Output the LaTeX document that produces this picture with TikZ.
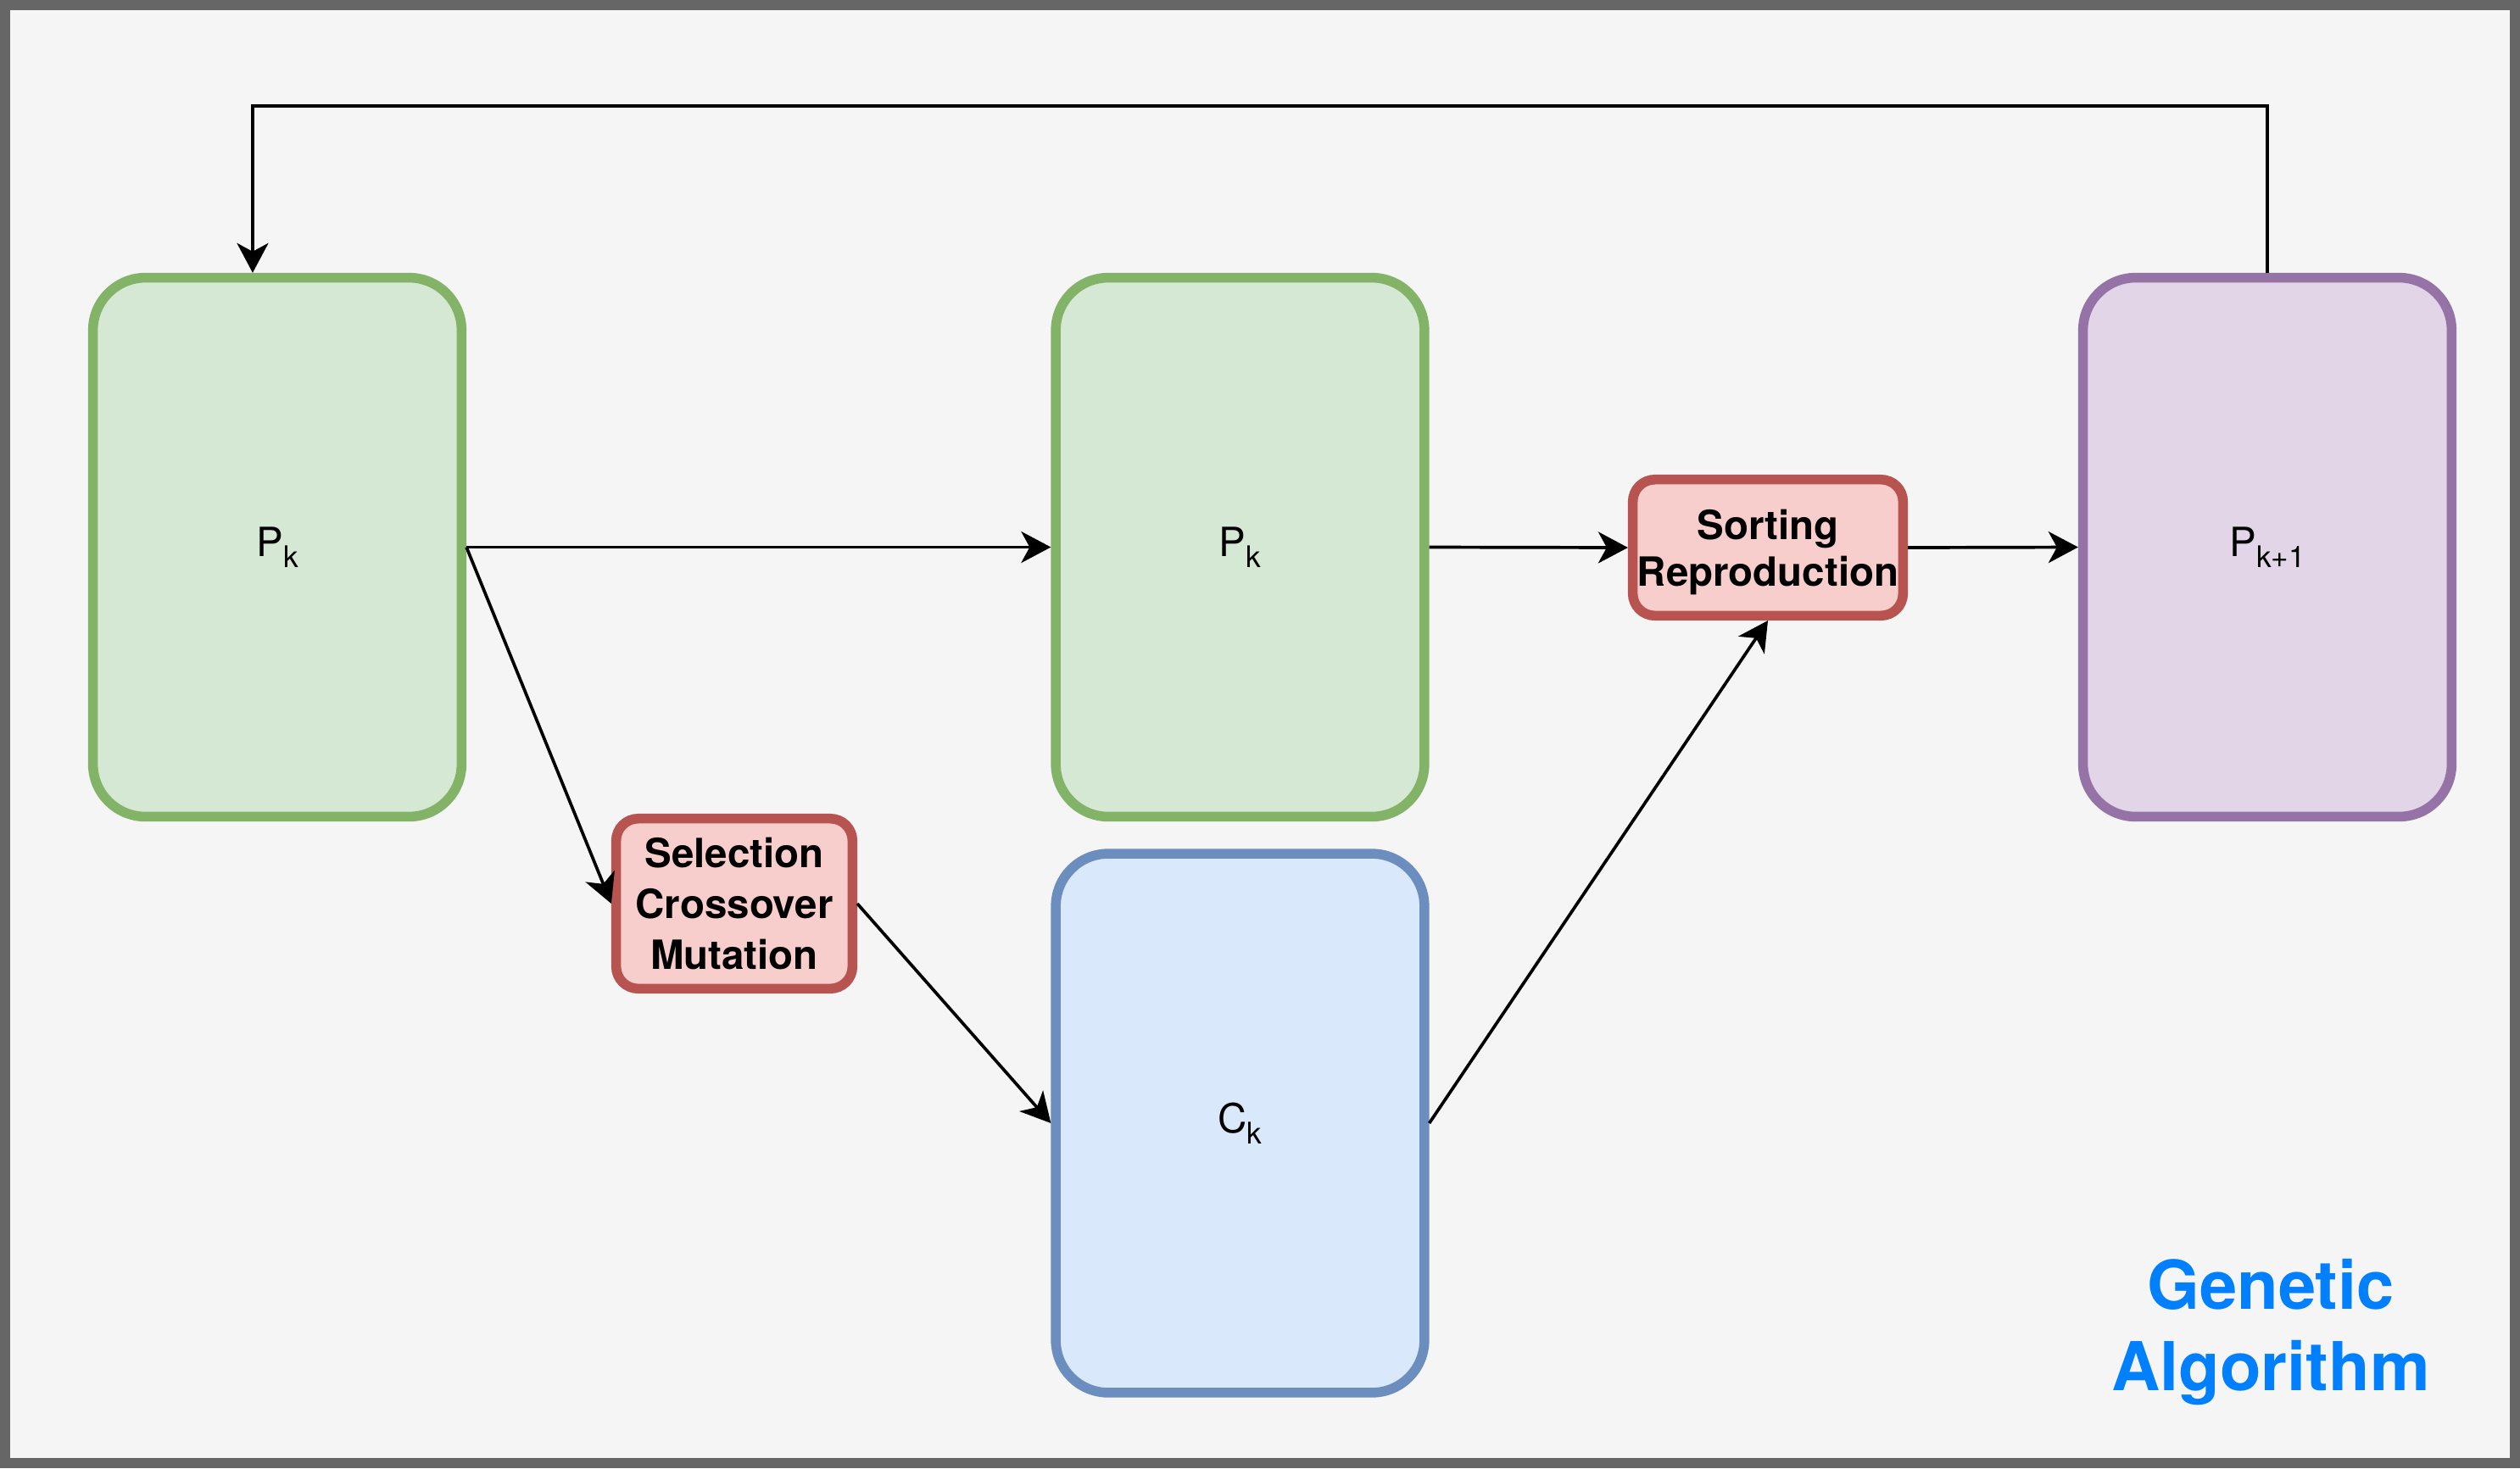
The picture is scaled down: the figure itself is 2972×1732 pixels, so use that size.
\documentclass[tikz,border=0pt]{standalone}
\usepackage{fontspec}
\setmainfont{TeX Gyre Heros}
\usetikzlibrary{arrows.meta}
\definecolor{framegray}{HTML}{666666}
\definecolor{bggray}{HTML}{F5F5F5}
\definecolor{gfill}{HTML}{D5E8D4}
\definecolor{gline}{HTML}{82B366}
\definecolor{bfill}{HTML}{DAE8FC}
\definecolor{bline}{HTML}{6C8EBF}
\definecolor{rfill}{HTML}{F8CECC}
\definecolor{rline}{HTML}{B85450}
\definecolor{pfill}{HTML}{E1D5E7}
\definecolor{pline}{HTML}{9673A6}
\definecolor{gablue}{HTML}{007FFF}
\newcommand\mysub[1]{\raisebox{-3.7pt}{\fontsize{10pt}{10pt}\selectfont #1}}
\begin{document}
\begin{tikzpicture}[x=0.01cm,y=-0.01cm,
  bigbox/.style={draw, line width=0.115cm, rounded corners=0.62cm,
    minimum width=4.345cm, minimum height=6.355cm, inner sep=0pt,
    font=\fontsize{13.5pt}{16pt}\selectfont},
  opbox/.style={draw=rline, fill=rfill, line width=0.115cm, rounded corners=0.26cm,
    inner sep=0pt, align=center, font=\fontsize{13.5pt}{16.5pt}\selectfont\bfseries},
  arr/.style={-{Stealth[length=0.35cm,width=0.37cm,inset=0.1cm]}, line width=0.037cm, line join=miter}
]
\useasboundingbox (0,0) rectangle (2972,1732);
\fill[framegray] (0,0) rectangle (2972,1732);
\fill[bggray] (12,12) rectangle (2960,1720);

\node[bigbox, draw=gline, fill=gfill] (pk1) at (327,645.5) {P\mysub{k}};
\node[bigbox, draw=gline, fill=gfill] (pk2) at (1462.5,645.5) {P\mysub{k}};
\node[bigbox, draw=bline, fill=bfill] (ck) at (1462.5,1325) {C\mysub{k}};
\node[bigbox, draw=pline, fill=pfill] (pk3) at (2674,645.5) {P\mysub{k+1}};

\node[opbox, minimum width=2.785cm, minimum height=2.005cm] (sel) at (866,1066)
  {Selection\\[0.6pt]Crossover\\[0.6pt]Mutation};
\node[opbox, minimum width=3.185cm, minimum height=1.605cm,
  font=\fontsize{13.5pt}{15.6pt}\selectfont\bfseries] (sort) at (2085,646)
  {\rule{0pt}{13.4pt}Sorting\\Reproduction};

\node[text=gablue, align=center, inner sep=0pt,
  font=\fontsize{22.6pt}{27.3pt}\selectfont\bfseries] (title) at (2678,1572)
  {Genetic\\Algorithm};

\coordinate (toprow) at (0,125);
\coordinate (pk1in) at ([xshift=-0.29cm]pk1.north);

\draw[arr] (pk1.east) -- (pk2.west);
\draw[arr] (pk1.east) -- (sel.west);
\draw[arr] (sel.east) -- (ck.west);
\draw[arr] (ck.east) -- (sort.south);
\draw[arr] (pk2.east) -- (sort.west);
\draw[arr] (sort.east) -- (pk3.west);
\draw[arr] (pk3.north) -- (pk3.north |- toprow) -| (pk1in);
\end{tikzpicture}
\end{document}
